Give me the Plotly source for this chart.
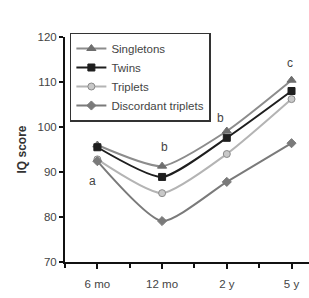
import plotly.graph_objects as go

categories = ["6 mo", "12 mo", "2 y", "5 y"]
singletons = [96.0, 91.3, 99.1, 110.4]
twins = [95.5, 88.9, 97.6, 108.0]
triplets = [92.8, 85.3, 94.0, 106.2]
discordant = [92.4, 79.1, 87.8, 96.4]
letters = ["a", "b", "b", "c"]
letter_y = [88.0, 95.5, 102.0, 114.2]

xpos = list(range(len(categories)))

fig = go.Figure()
series = [
    ("Singletons", singletons, "#8c8c8c", "triangle-up", "#6e6e6e", 8),
    ("Twins", twins, "#1e1e1e", "square", "#1e1e1e", 7),
    ("Triplets", triplets, "#b4b4b4", "circle", "#c8c8c8", 7),
    ("Discordant triplets", discordant, "#7a7a7a", "diamond", "#7a7a7a", 7),
]
for name, vals, col, sym, mcol, ms in series:
    fig.add_trace(go.Scatter(
        x=xpos, y=vals, name=name, mode="lines+markers",
        line=dict(color=col, width=2, shape="spline", smoothing=0.6),
        marker=dict(symbol=sym, size=ms, color=mcol,
                    line=dict(color="#8a8a8a" if sym == "circle" else mcol, width=1)),
    ))

lx = [-0.08, 1.03, 1.9, 2.97]
for x, y, t in zip(lx, letter_y, letters):
    fig.add_annotation(x=x, y=y, text=t, showarrow=False,
                       font=dict(family="Liberation Sans, Arial", size=12, color="#444"))

fig.update_layout(
    width=309, height=298,
    margin=dict(l=65, r=0, t=37, b=36),
    paper_bgcolor="white", plot_bgcolor="white",
    font=dict(family="Liberation Sans, Arial", size=11, color="#444"),
    showlegend=True,
    legend=dict(x=0.02, y=1.02, xanchor="left", yanchor="top",
                bordercolor="#333", borderwidth=1.5, bgcolor="white",
                font=dict(size=11.5, color="#444"), tracegroupgap=0,
                itemwidth=30),
    xaxis=dict(range=[-0.5, 3.27], tickmode="array", tickvals=xpos, ticktext=categories,
               showgrid=False, zeroline=False, showline=True, linecolor="#111", linewidth=2,
               ticks="outside", ticklen=5, tickwidth=2, tickcolor="#111",
               ticklabelstandoff=5,
               minor=dict(tickmode="array", tickvals=[-0.5, 0.5, 1.5, 2.5], ticks="outside",
                          ticklen=4, tickwidth=2, tickcolor="#111"),
               tickfont=dict(size=11.5, color="#444")),
    yaxis=dict(range=[70, 120], tickvals=[70, 80, 90, 100, 110, 120],
               showgrid=False, zeroline=False, showline=True, linecolor="#111", linewidth=2,
               ticks="outside", ticklen=4, tickwidth=2, tickcolor="#111",
               tickfont=dict(size=11.5, color="#444"),
               title=dict(text="<b>IQ score</b>", font=dict(size=12, color="#333"), standoff=8)),
)

fig.write_html("out.html")
